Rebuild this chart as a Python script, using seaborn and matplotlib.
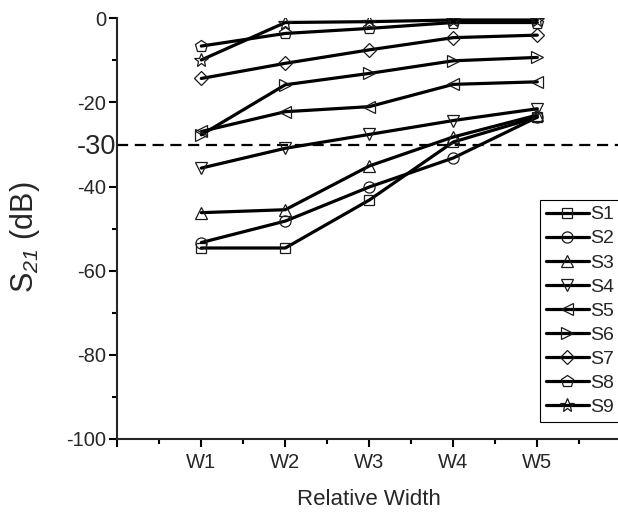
import numpy as np
import matplotlib
matplotlib.use("Agg")
import matplotlib.pyplot as plt
import seaborn as sns

# Widths on the x axis
categories = ["W1", "W2", "W3", "W4", "W5"]

# S21 transmission (dB) for each sample
s1 = [-54.6, -54.6, -43.2, -29.4, -23.5]
s2 = [-53.3, -48.2, -40.1, -33.2, -23.5]
s3 = [-46.2, -45.5, -35.1, -28.2, -23.0]
s4 = [-35.6, -30.9, -27.6, -24.3, -21.5]
s5 = [-26.9, -22.2, -21.0, -15.7, -15.1]
s6 = [-27.7, -15.8, -13.1, -10.1, -9.3]
s7 = [-14.3, -10.7, -7.5, -4.6, -4.0]
s8 = [-6.6, -3.6, -2.4, -1.0, -1.0]
s9 = [-9.9, -1.0, -0.8, -0.4, -0.4]

series_names = ["S1", "S2", "S3", "S4", "S5", "S6", "S7", "S8", "S9"]
series_values = [s1, s2, s3, s4, s5, s6, s7, s8, s9]

threshold = -30
y_ticks = [0, -20, -40, -60, -80, -100]
y_tick_labels = ["0", "-20", "-40", "-60", "-80", "-100"]

sns.set_style("ticks")
plt.rcParams["font.family"] = ["Liberation Sans", "DejaVu Sans"]
# math text is only used for the slanted subscript of the y label
plt.rcParams["mathtext.fontset"] = "custom"
plt.rcParams["mathtext.rm"] = "Liberation Sans:italic"
plt.rcParams["mathtext.it"] = "Liberation Sans:italic"

markers = ["s", "o", "^", "v", "<", ">", "D", "p", "*"]
msizes = [7.5, 8.0, 9.0, 9.0, 9.0, 9.0, 6.8, 9.0, 10.0]

fig = plt.figure(figsize=(6.18, 5.14), dpi=100)
ax = fig.add_axes([117.3 / 618, 75 / 514, 504 / 618, 420.7 / 514])

x = np.arange(1, len(categories) + 1)
for name, vals, mk, ms in zip(series_names, series_values, markers, msizes):
    sns.lineplot(x=x, y=vals, ax=ax, color="black", lw=2.3,
                 marker=mk, markersize=ms, markerfacecolor="none",
                 markeredgecolor="#1a1a1a", markeredgewidth=0.9,
                 label=name, zorder=3)

ax.axhline(threshold, color="black", lw=1.6, dashes=(5, 3), zorder=2)

ax.set_xlim(0, 6)
ax.set_ylim(-100, 0)
ax.set_xticks(np.arange(0, 7))
ax.set_xticklabels([""] + categories + [""])
ax.set_xticks(np.arange(0.5, 6, 1), minor=True)
ax.set_yticks(y_ticks)
ax.set_yticklabels(y_tick_labels)
ax.set_yticks([-10, -50, -70, -90], minor=True)

sns.despine(ax=ax, top=True, right=True)
for sp in ("left", "bottom"):
    ax.spines[sp].set_linewidth(1.5)
ax.tick_params(axis="both", which="major", length=6, width=1.5,
               labelsize=14.5, direction="out", color="black")
ax.tick_params(axis="both", which="minor", length=3.3, width=1.5,
               direction="out", color="black")
ax.tick_params(axis="y", which="major", pad=2)
ax.tick_params(axis="x", which="major", pad=4)

ax.annotate("-30", xy=(0, threshold), xycoords=("axes fraction", "data"),
            xytext=(-0.5, -1.5), textcoords="offset points",
            ha="right", va="center", fontsize=19.5)

ax.set_xlabel("Relative Width", fontsize=16, labelpad=12)
ax.set_ylabel(r"S$_{21}$ (dB)", fontsize=22)
ax.yaxis.set_label_coords(-0.150, 0.48)

leg = ax.legend(loc="upper left", bbox_to_anchor=(540 / 618, 1 - 200 / 514),
                bbox_transform=fig.transFigure, frameon=True, fancybox=False,
                fontsize=14, handlelength=2.2, handletextpad=0.1,
                labelspacing=0.33, borderpad=0.3, borderaxespad=0)
leg.get_frame().set_edgecolor("black")
leg.get_frame().set_linewidth(0.8)
leg.get_frame().set_alpha(1)

fig.savefig("out.png", dpi=100)
